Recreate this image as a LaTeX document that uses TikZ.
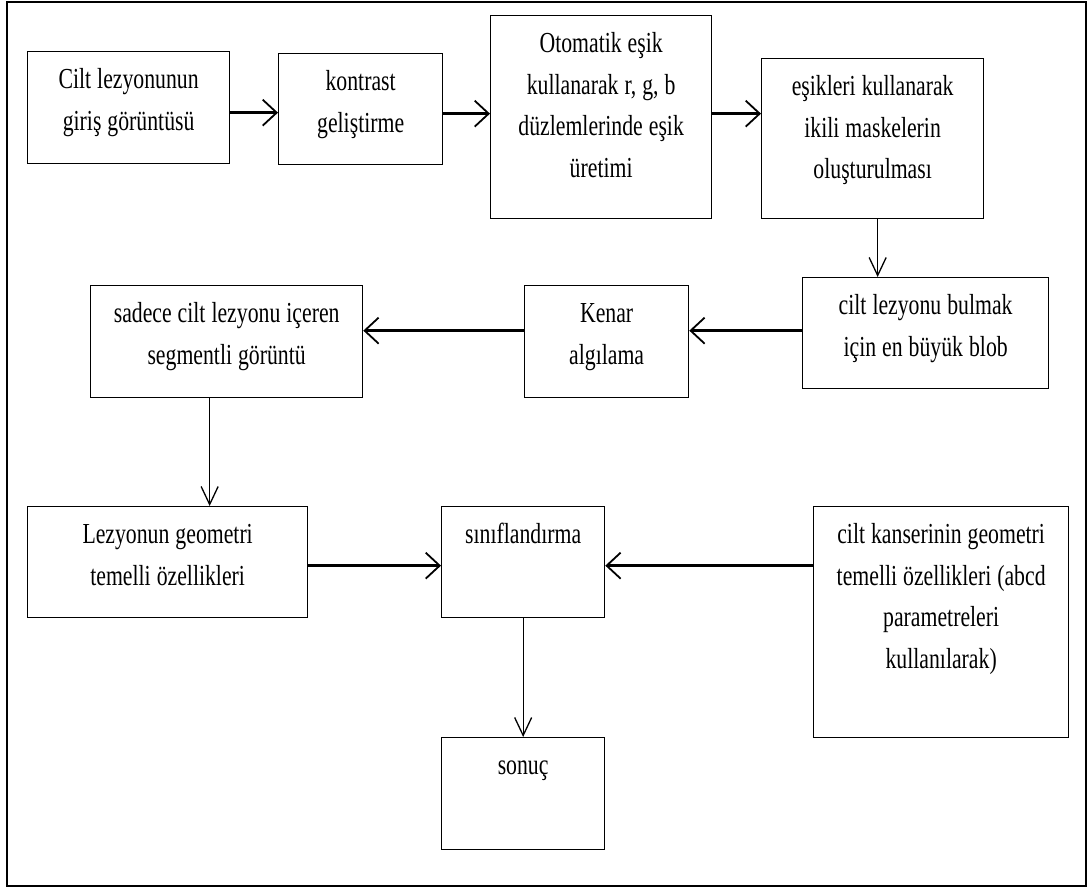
\documentclass[tikz,border=0pt]{standalone}
\usepackage{fontspec}
\setmainfont{Liberation Serif}[FakeStretch=0.75]
\usetikzlibrary{arrows.meta}
\begin{document}
\begin{tikzpicture}[
			x=1pt, y=-1pt,
			kutu/.style={draw, line width=1.3pt, anchor=north west, inner sep=0pt,
				align=center, text height=37pt, font=\fontsize{29}{41.5}\selectfont,
				execute at begin node={\spaceskip=6pt\xspaceskip=7pt\relax}},
			ok/.style={line width=2.6pt, -{Straight Barb[length=14pt,width=26pt,line width=1.8pt]}},
			inis/.style={line width=1.3pt, -{Straight Barb[length=18pt,width=17pt]}}
		]
		\useasboundingbox (0,0) rectangle (1089,888);
		\draw[line width=2pt] (7,2) rectangle (1086,886);
		% ust sira
		\node[kutu, text width=202pt, text depth=75pt] (giris) at (27,51) {Cilt lezyonunun\\giriş görüntüsü};
		\node[kutu, text width=164pt, text depth=74pt] (kontrast) at (278,53) {kontrast\\geliştirme};
		\node[kutu, text width=221pt, text depth=166pt] (esik) at (490,15) {Otomatik eşik\\kullanarak r, g, b\\düzlemlerinde eşik\\üretimi};
		\node[kutu, text width=222pt, text depth=123pt] (maske) at (761,58) {eşikleri kullanarak\\ikili maskelerin\\oluşturulması};
		% orta sira
		\node[kutu, text width=246pt, text depth=74pt] (blob) at (802,277) {cilt lezyonu bulmak\\için en büyük blob};
		\node[kutu, text width=164pt, text depth=75pt] (kenar) at (524,285) {Kenar\\algılama};
		\node[kutu, text width=272pt, text depth=75pt] (segment) at (90,285) {sadece cilt lezyonu içeren\\segmentli görüntü};
		% alt sira
		\node[kutu, text width=280pt, text depth=74pt] (geometri) at (27,506) {Lezyonun geometri\\temelli özellikleri};
		\node[kutu, text width=163pt, text depth=74pt] (sinif) at (441,506) {sınıflandırma};
		\node[kutu, text width=255pt, text depth=194pt] (abcd) at (813,506) {cilt kanserinin geometri\\temelli özellikleri (abcd\\parametreleri\\kullanılarak)};
		\node[kutu, text width=163pt, text depth=75pt] (sonuc) at (441,737) {sonuç};
		% oklar
		\draw[ok] ([yshift=-5pt]giris.east) -- ([yshift=-5pt]giris.east -| kontrast.west);
		\draw[ok] ([yshift=-4.5pt]kontrast.east) -- ([yshift=-4.5pt]kontrast.east -| esik.west);
		\draw[ok] ([yshift=3.5pt]esik.east) -- ([yshift=3.5pt]esik.east -| maske.west);
		\draw[inis] ([xshift=5pt]maske.south) -- ([xshift=5pt]maske.south |- blob.north);
		\draw[ok] ([yshift=2.5pt]blob.west) -- ([yshift=2.5pt]blob.west -| kenar.east);
		\draw[ok] ([yshift=11pt]kenar.west) -- ([yshift=11pt]kenar.west -| segment.east);
		\draw[inis] ([xshift=-17pt]segment.south) -- ([xshift=-17pt]segment.south |- geometri.north);
		\draw[ok] ([yshift=-3.5pt]geometri.east) -- ([yshift=-3.5pt]geometri.east -| sinif.west);
		\draw[ok] ([yshift=-3.5pt]sinif.east -| abcd.west) -- ([yshift=-3.5pt]sinif.east);
		\draw[inis] (sinif) -- (sonuc);
	\end{tikzpicture}
\end{document}
